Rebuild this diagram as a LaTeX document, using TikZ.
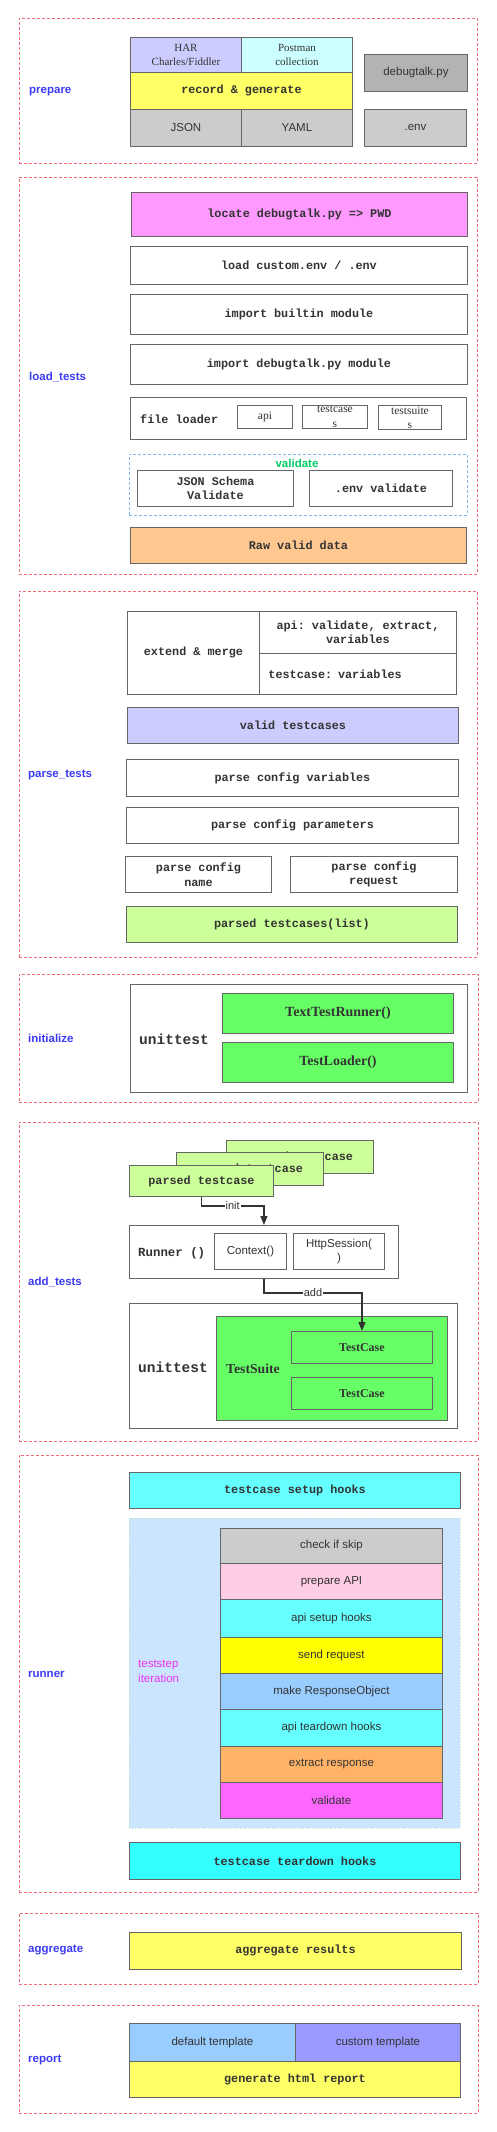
\documentclass[tikz,border=0pt]{standalone}
\usepackage{fontspec}
\setmainfont{Liberation Serif}
\setsansfont{Liberation Sans}
\setmonofont{Liberation Mono}
\usetikzlibrary{arrows.meta}
\definecolor{dred}{HTML}{F26B7A}
\definecolor{lblue}{HTML}{3B3BF5}
\definecolor{bdr}{HTML}{666666}
\definecolor{txt}{HTML}{333333}
\definecolor{cHar}{HTML}{CCCCFF}
\definecolor{cPost}{HTML}{CCFFFF}
\definecolor{cYel}{HTML}{FFFF66}
\definecolor{cGray}{HTML}{CCCCCC}
\definecolor{cDGray}{HTML}{B3B3B3}
\definecolor{cMag}{HTML}{FF99FF}
\definecolor{cOrng}{HTML}{FFC891}
\definecolor{cLGreen}{HTML}{CCFF99}
\definecolor{cGreen}{HTML}{66FF66}
\definecolor{cCyan}{HTML}{66FFFF}
\definecolor{cCyanB}{HTML}{33FFFF}
\definecolor{cBg}{HTML}{CCE5FF}
\definecolor{cPink}{HTML}{FFCCE6}
\definecolor{cYel2}{HTML}{FFFF00}
\definecolor{cBlue}{HTML}{99CCFF}
\definecolor{cOr2}{HTML}{FFB366}
\definecolor{cMag2}{HTML}{FF66FF}
\definecolor{cPurp}{HTML}{9999FF}
\definecolor{vgreen}{HTML}{00CC66}
\definecolor{tsmag}{HTML}{EE33EE}
\definecolor{vblue}{HTML}{7FB8F0}
\definecolor{bggreen}{HTML}{B3E6B3}
\newcommand\mkbox[7]{\node[bx,#1,anchor=north west,minimum width={(#5)-(#3)},minimum height={(#6)-(#4)}] (#2) at (#3,#4) {#7};}
\begin{document}
\begin{tikzpicture}[x=1pt,y=-1pt,
 outer/.style={draw=dred, dash pattern=on 3pt off 2pt, line width=0.9pt, fill=none},
 bx/.style={draw=bdr, line width=0.9pt, inner sep=1pt, align=center, text=txt},
 mb/.style={font=\fontsize{11.8}{14.5}\selectfont\ttfamily\bfseries},
 mbl/.style={font=\fontsize{14.5}{16}\selectfont\ttfamily\bfseries, text=txt, anchor=west, inner sep=0pt},
 sf/.style={font=\fontsize{11.5}{14.5}\selectfont\sffamily},
 rm/.style={font=\fontsize{11}{14}\selectfont\rmfamily},
 rmb/.style={font=\fontsize{12}{14}\selectfont\rmfamily\bfseries},
 lab/.style={font=\fontsize{11.5}{14}\selectfont\sffamily\bfseries, text=lblue, anchor=west, inner sep=0pt},
 arr/.style={draw=txt, line width=1.3pt, -{Triangle[length=9pt,width=7pt]}},
 albl/.style={fill=white, font=\fontsize{11}{13}\selectfont\sffamily, text=txt, inner sep=1pt},
]
\useasboundingbox (0,0) rectangle (497,2132);

% ---------------- prepare
\mkbox{outer}{prepO}{19}{18}{477}{163}{}
\node[lab] (prepL) at (29,92) {prepare};
\mkbox{rm,fill=cHar}{har}{130}{37}{241}{72}{HAR\\Charles/Fiddler}
\mkbox{rm,fill=cPost}{post}{241}{37}{352}{72}{Postman\\collection}
\mkbox{mb,fill=cYel}{rec}{130}{72}{352}{109}{record \& generate}
\mkbox{sf,fill=cGray}{json}{130}{109}{241}{146}{JSON}
\mkbox{sf,fill=cGray}{yaml}{241}{109}{352}{146}{YAML}
\mkbox{sf,fill=cDGray}{dbg}{364}{54}{467}{91}{debugtalk.py}
\mkbox{sf,fill=cGray}{env}{364}{109}{466}{146}{.env}

% ---------------- load_tests
\mkbox{outer}{loadO}{19}{177}{477}{574}{}
\node[lab] (loadL) at (29,377) {load\_tests};
\mkbox{mb,fill=cMag}{locate}{131}{192}{467}{236}{locate debugtalk.py => PWD}
\mkbox{mb,fill=white}{lenv}{130}{246}{467}{284}{load custom.env / .env}
\mkbox{mb,fill=white}{ibuilt}{130}{294}{467}{334}{import builtin module}
\mkbox{mb,fill=white}{idbg}{130}{344}{467}{384}{import debugtalk.py module}
\mkbox{fill=white}{floader}{130}{397}{466}{439}{}
\node[mb, text=txt, anchor=west, inner sep=0pt] (flt) at (140,419) {file loader};
\mkbox{rm,fill=white,font=\fontsize{11.5}{14}\selectfont\rmfamily}{fapi}{237}{405}{292}{428}{api}
\mkbox{rm,fill=white,font=\fontsize{11.5}{14.5}\selectfont\rmfamily}{ftc}{302}{405}{367}{428}{testcase\\s}
\mkbox{rm,fill=white,font=\fontsize{11.5}{14.5}\selectfont\rmfamily}{fts}{378}{405}{441}{428}{testsuite\\s}
\mkbox{draw=vblue,dash pattern=on 3pt off 2pt}{valO}{129}{454}{467}{515}{}
\node[font=\fontsize{11.5}{13}\selectfont\sffamily\bfseries, text=vgreen, inner sep=0pt] (valL) at (297,463) {validate};
\mkbox{mb,fill=white}{jsv}{137}{470}{293}{506}{JSON Schema\\Validate}
\mkbox{mb,fill=white}{envv}{309}{470}{452}{506}{.env validate}
\mkbox{mb,fill=cOrng}{raw}{130}{527}{466}{563}{Raw valid data}

% ---------------- parse_tests
\mkbox{outer}{parseO}{19}{591}{477}{957}{}
\node[lab] (parseL) at (28,775) {parse\_tests};
\mkbox{mb,fill=white}{ext}{127}{611}{259}{694}{extend \& merge}
\mkbox{mb,fill=white}{apiv}{259}{611}{456}{653}{api: validate, extract,\\variables}
\mkbox{mb,fill=white,text width={197-18},inner xsep=9pt,align=left}{tcv}{259}{653}{456}{694}{testcase: variables}
\mkbox{mb,fill=cHar}{vtc}{127}{707}{458}{743}{valid testcases}
\mkbox{mb,fill=white}{pcv}{126}{759}{458}{796}{parse config variables}
\mkbox{mb,fill=white}{pcp}{126}{807}{458}{843}{parse config parameters}
\mkbox{mb,fill=white}{pcn}{125}{856}{271}{892}{parse config\\name}
\mkbox{mb,fill=white}{pcr}{290}{856}{457}{892}{parse config\\request}
\mkbox{mb,fill=cLGreen}{ptl}{126}{906}{457}{942}{parsed testcases(list)}

% ---------------- initialize
\mkbox{outer}{initO}{19}{974}{478}{1102}{}
\node[lab] (initL) at (28,1038) {initialize};
\mkbox{fill=white}{ut1}{130}{984}{467}{1092}{}
\node[mbl] (ut1t) at (139,1039) {unittest};
\mkbox{fill=cGreen,font=\fontsize{14}{16}\selectfont\rmfamily\bfseries}{ttr}{222}{993}{453}{1033}{TextTestRunner()}
\mkbox{fill=cGreen,font=\fontsize{14}{16}\selectfont\rmfamily\bfseries}{tl}{222}{1042}{453}{1082}{TestLoader()}

% ---------------- add_tests
\mkbox{outer}{addO}{19}{1122}{478}{1441}{}
\node[lab] (addL) at (28,1282) {add\_tests};
\mkbox{mb,fill=cLGreen}{card3}{226}{1140}{373}{1173}{parsed testcase}
\mkbox{mb,fill=cLGreen}{card2}{176}{1152}{323}{1185}{parsed testcase}
\mkbox{mb,fill=cLGreen}{card1}{129}{1165}{273}{1196}{parsed testcase}
\mkbox{fill=white}{runner}{129}{1225}{398}{1278}{}
\node[mb, text=txt, anchor=west, inner sep=0pt, font=\fontsize{12.4}{14}\selectfont\ttfamily\bfseries] (runt) at (138,1253) {Runner ()};
\mkbox{sf,fill=white}{ctx}{214}{1233}{286}{1269}{Context()}
\mkbox{sf,fill=white}{http}{293}{1233}{384}{1269}{HttpSession(\\)}
\mkbox{fill=white}{ut2}{129}{1303}{457}{1428}{}
\node[mbl] (ut2t) at (138,1367) {unittest};
\mkbox{fill=cGreen}{suite}{216}{1316}{447}{1420}{}
\node[font=\fontsize{13.7}{16}\selectfont\rmfamily\bfseries, text=txt, anchor=west, inner sep=0pt] (suitet) at (226,1369) {TestSuite};
\mkbox{rmb,fill=cGreen}{tc1}{291}{1331}{432}{1363}{TestCase}
\mkbox{rmb,fill=cGreen}{tc2}{291}{1377}{432}{1409}{TestCase}
\draw[arr] (card1.south) -- ++(0,9) -| (runner.north) node[albl, pos=0.25] {init};
\draw[arr] (runner.south) -- ++(0,14) -| (tc1.north) node[albl, pos=0.25] {add};

% ---------------- runner
\mkbox{outer}{runO}{19}{1455}{478}{1892}{}
\node[lab] (runL) at (28,1674) {runner};
\mkbox{mb,fill=cCyan}{tsh}{129}{1472}{460}{1508}{testcase setup hooks}
\mkbox{draw=bggreen,dotted,fill=cBg}{tsbg}{129}{1518}{460}{1828}{}
\node[font=\fontsize{11.5}{14.5}\selectfont\sffamily, text=tsmag, anchor=north west, align=left, inner sep=0pt] (tsl) at (138,1660) {teststep\\iteration};
\mkbox{sf,fill=cGray}{s1}{220}{1528}{442}{1563}{check if skip}
\mkbox{sf,fill=cPink}{s2}{220}{1563}{442}{1599}{prepare API}
\mkbox{sf,fill=cCyan}{s3}{220}{1599}{442}{1637}{api setup hooks}
\mkbox{sf,fill=cYel2}{s4}{220}{1637}{442}{1673}{send request}
\mkbox{sf,fill=cBlue}{s5}{220}{1673}{442}{1709}{make ResponseObject}
\mkbox{sf,fill=cCyan}{s6}{220}{1709}{442}{1746}{api teardown hooks}
\mkbox{sf,fill=cOr2}{s7}{220}{1746}{442}{1782}{extract response}
\mkbox{sf,fill=cMag2}{s8}{220}{1782}{442}{1818}{validate}
\mkbox{mb,fill=cCyanB}{tth}{129}{1842}{460}{1879}{testcase teardown hooks}

% ---------------- aggregate
\mkbox{outer}{aggO}{19}{1913}{478}{1984}{}
\node[lab] (aggL) at (28,1950) {aggregate};
\mkbox{mb,fill=cYel}{aggr}{129}{1932}{461}{1969}{aggregate results}

% ---------------- report
\mkbox{outer}{repO}{19}{2005}{478}{2113}{}
\node[lab] (repL) at (28,2060) {report};
\mkbox{sf,fill=cBlue}{deft}{129}{2023}{295}{2061}{default template}
\mkbox{sf,fill=cPurp}{cust}{295}{2023}{460}{2061}{custom template}
\mkbox{mb,fill=cYel}{genr}{129}{2061}{460}{2097}{generate html report}
\end{tikzpicture}
\end{document}
